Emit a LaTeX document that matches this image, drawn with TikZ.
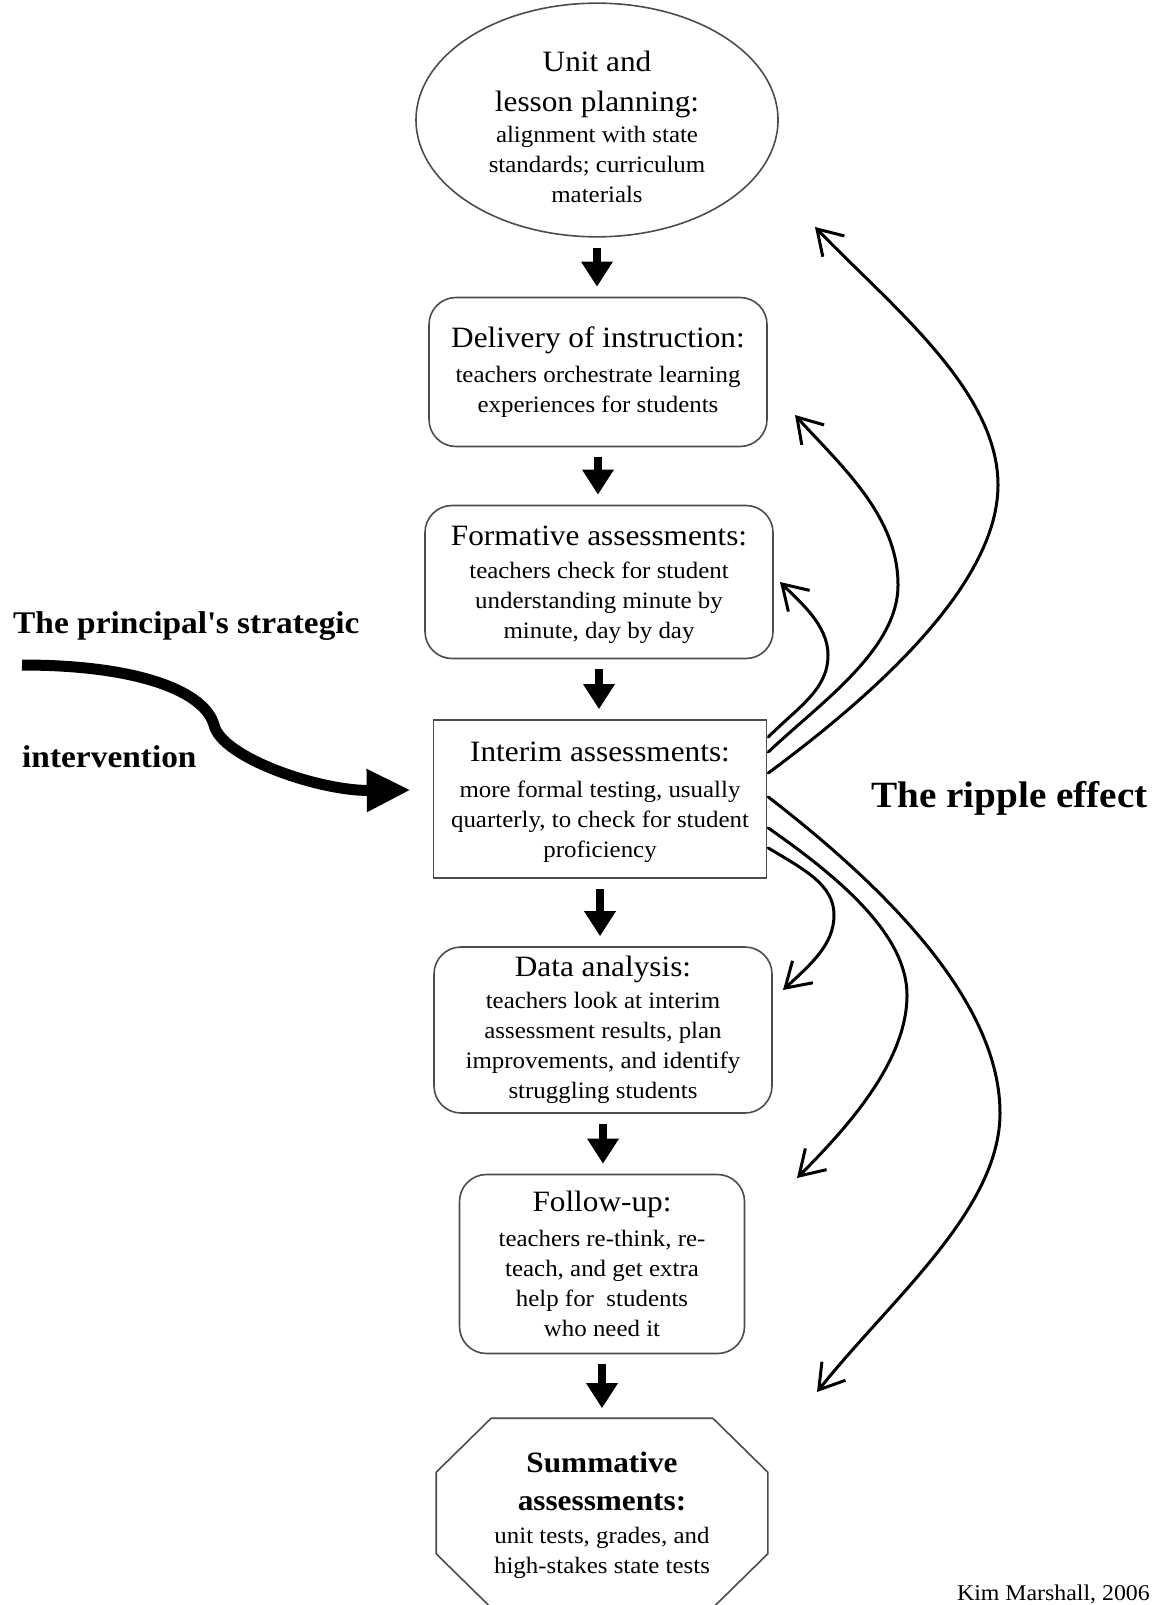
\documentclass[tikz,border=0pt]{standalone}
\usepackage{fontspec}
\setmainfont{Liberation Serif}[FakeStretch=1.06]
\usetikzlibrary{arrows.meta,shapes.geometric,calc}
\newcommand\bigtx{\fontsize{29.5}{40}\selectfont}
\newcommand\smtx{\fontsize{23.5}{30}\selectfont}
\begin{document}
\begin{tikzpicture}[x=1pt,y=-1pt,
  box/.style={draw=black!70, line width=1.6pt, align=center, inner sep=0pt, font=\smtx, text=black},
  rbox/.style={box, rectangle, rounded corners=27pt},
  downarrow/.style={line width=8.5pt, -{Triangle[length=25pt,width=30pt]}, shorten <=10pt, shorten >=10pt},
  ripple/.style={line width=3pt, -{Straight Barb[length=24pt,width=30pt,line width=3pt]}, line cap=round, line join=round},
  freetext/.style={inner sep=0pt, text=black},
  ]
\useasboundingbox (0,0) rectangle (1161,1605);

% main chain
\node[box, ellipse, minimum width=362pt, minimum height=224pt] (plan) at (597,120)
  {{\bigtx\rule{0pt}{34pt}Unit and}\\[10pt]{\bigtx lesson planning:}\\[1pt]alignment with state\\standards; curriculum\\materials};
\node[rbox, minimum width=338pt, minimum height=149pt] (deliv) at (598,372)
  {{\bigtx Delivery of instruction:}\\[5pt]teachers orchestrate learning\\experiences for students};
\node[rbox, minimum width=348pt, minimum height=153pt] (form) at (599,582)
  {{\bigtx\rule{0pt}{26pt}Formative assessments:}\\[3pt]teachers check for student\\understanding minute by\\minute, day by day};
\node[box, rectangle, minimum width=333pt, minimum height=158pt] (interim) at (600,799)
  {{\bigtx\rule{0pt}{26pt}Interim assessments:}\\[6pt]more formal testing, usually\\quarterly, to check for student\\proficiency};
\node[rbox, minimum width=338pt, minimum height=166pt] (data) at (603,1030)
  {{\bigtx Data analysis:}\\[2pt]teachers look at interim\\assessment results, plan\\improvements, and identify\\struggling students};
\node[rbox, minimum width=285pt, minimum height=179pt] (follow) at (602,1264)
  {{\bigtx Follow-up:}\\[5pt]teachers re-think, re-\\teach, and get extra\\help for\ \ students\\who need it};
\node[box, draw=none, rectangle, minimum width=330pt, minimum height=188pt] (summ) at (602,1513)
  {{\bfseries\bigtx\rule{0pt}{25pt}Summative}\\[8pt]{\bfseries\bigtx assessments:}\\[3pt]unit tests, grades, and\\high-stakes state tests};
\draw[draw=black!70, line width=1.6pt]
  ($(summ.north west)+(55,0)$) -- ($(summ.north east)+(-55,0)$) -- ($(summ.north east)+(0,54)$)
  -- ($(summ.south east)+(0,-54)$) -- ($(summ.south east)+(-55,0)$) -- ($(summ.south west)+(55,0)$)
  -- ($(summ.south west)+(0,-54)$) -- ($(summ.north west)+(0,54)$) -- cycle;

% down arrows
\draw[downarrow] (plan.south) -- (plan.south |- deliv.north);
\draw[downarrow] (deliv.south) -- (deliv.south |- form.north);
\draw[downarrow] (form.south) -- (form.south |- interim.north);
\draw[downarrow] (interim.south) -- (interim.south |- data.north);
\draw[downarrow] (data.south) -- (data.south |- follow.north);
\draw[downarrow] (follow.south) -- (follow.south |- summ.north);

% free texts
\node[freetext, anchor=base west, font=\bfseries\fontsize{31.5}{35}\selectfont] (principal) at (13,633) {The principal\textquotesingle s strategic};
\node[freetext, anchor=base west, font=\bfseries\fontsize{31.5}{35}\selectfont] (interv) at (22,767) {intervention};
\node[freetext, anchor=base west, font=\bfseries\fontsize{37}{40}\selectfont] (rippletxt) at (871,807) {The ripple effect};
\node[freetext, anchor=base east, font=\fontsize{22.5}{24}\selectfont] (credit) at (1150,1600) {Kim Marshall, 2006};

% intervention arrow
\coordinate (ivstart) at (22,665);
\draw[line width=11pt, -{Triangle[length=44pt,width=40pt]}]
  (ivstart) .. controls (140,665) and (205,692) .. (214,725)
  .. controls (222,758) and (320,791) .. ($(interim.west)+(-22,-9)$);

% ripple arrows
\coordinate (ra) at ($(interim.east)+(1,-62)$);
\coordinate (rb) at ($(interim.east)+(1,-47)$);
\coordinate (rc) at ($(interim.east)+(1,-26)$);
\coordinate (rd) at ($(interim.east)+(1,-2)$);
\coordinate (re) at ($(interim.east)+(1,29)$);
\coordinate (rf) at ($(interim.east)+(1,49)$);
\coordinate (ta) at (780,582);
\coordinate (tb) at (795,415);
\coordinate (tc) at (815,227);
\coordinate (td) at (817,1392);
\coordinate (te) at (797,1178);
\coordinate (tf) at (783,990);

\draw[ripple] (ra) .. controls (798,707) and (828,690) .. (828,655) .. controls (828,625) and (800,602) .. (ta);
\draw[ripple] (rb) .. controls (820,703) and (898,650) .. (898,585) .. controls (898,515) and (840,465) .. (tb);
\draw[ripple] (rc) .. controls (860,705) and (998,590) .. (998,485) .. controls (998,390) and (890,305) .. (tc);
\draw[ripple] (rd) .. controls (860,868) and (1000,990) .. (1000,1113) .. controls (1000,1210) and (890,1300) .. (td);
\draw[ripple] (re) .. controls (840,878) and (907,935) .. (907,995) .. controls (907,1060) and (850,1125) .. (te);
\draw[ripple] (rf) .. controls (805,870) and (834,885) .. (834,915) .. controls (834,945) and (810,965) .. (tf);
\end{tikzpicture}
\end{document}
